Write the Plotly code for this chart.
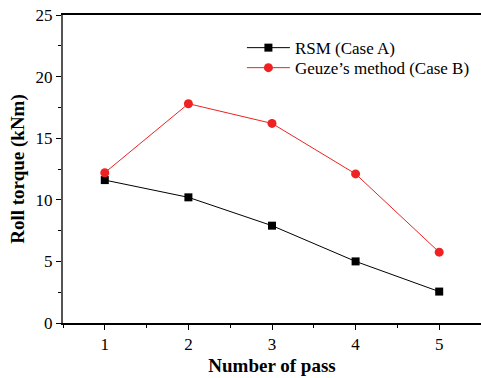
import plotly.graph_objects as go

passes = [1, 2, 3, 4, 5]
rsm_case_a = [11.6, 10.2, 7.9, 5.0, 2.55]
geuze_case_b = [12.2, 17.8, 16.2, 12.1, 5.75]
y_ticks = [0, 5, 10, 15, 20, 25]

FONT = "Liberation Serif"

fig = go.Figure()
fig.add_trace(go.Scatter(
    x=passes, y=rsm_case_a, mode="lines+markers", name="RSM (Case A)",
    line=dict(color="black", width=1),
    marker=dict(symbol="square", size=8, color="black"),
    legend="legend",
))
fig.add_trace(go.Scatter(
    x=passes, y=geuze_case_b, mode="lines+markers", name="Geuze\u2019s method (Case B)",
    line=dict(color="#ee2222", width=1),
    marker=dict(symbol="circle", size=9, color="#ee2222"),
    legend="legend2",
))

legend_common = dict(xanchor="left", yanchor="top", bgcolor="rgba(0,0,0,0)",
                     font=dict(family=FONT, size=17), itemwidth=43)
fig.update_layout(
    width=481, height=378,
    margin=dict(l=63, r=0, t=15, b=55, autoexpand=False),
    paper_bgcolor="white", plot_bgcolor="white",
    font=dict(family=FONT, size=17, color="black"),
    showlegend=True,
    legend=dict(x=0.428, y=0.951, **legend_common),
    legend2=dict(x=0.428, y=0.886, **legend_common),
)
fig.update_xaxes(
    range=[0.5, 5.5], tickvals=passes, showgrid=False, zeroline=False,
    showline=True, linecolor="black", linewidth=1.5, mirror=True,
    ticks="outside", ticklen=5, tickcolor="black", automargin=False,
    tickfont=dict(family=FONT, size=17),
    minor=dict(dtick=0.5, tick0=0.5, ticks="outside", ticklen=3, tickcolor="black"),
    title=dict(text="<b>Number of pass</b>", font=dict(family=FONT, size=19), standoff=6),
)
fig.update_yaxes(
    range=[0, 25], tickvals=y_ticks, showgrid=False, zeroline=False,
    showline=True, linecolor="#555555", linewidth=2,
    ticks="outside", ticklen=5, tickcolor="black", automargin=False,
    tickfont=dict(family=FONT, size=17),
    minor=dict(dtick=2.5, ticks="outside", ticklen=3, tickcolor="black"),
    title=dict(text="<b>Roll torque (kNm)</b>", font=dict(family=FONT, size=19), standoff=6),
)

fig.write_html("out.html", config={"displayModeBar": False},
               post_script="document.body.style.margin='0';document.body.style.overflow='hidden';")
